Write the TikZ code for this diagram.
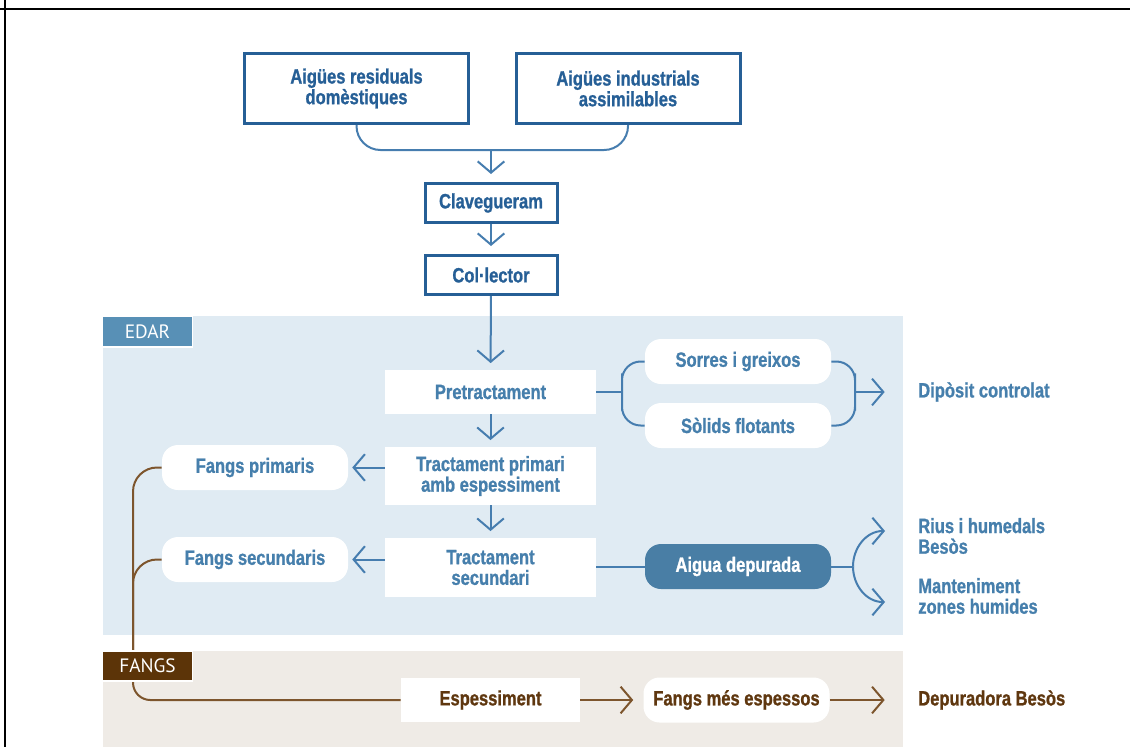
\documentclass[tikz,border=0pt]{standalone}
\usepackage{fontspec}
\setmainfont{Liberation Sans}
\newfontfamily\condfont[FakeStretch=0.8, FakeBold=1]{Liberation Sans}
\newfontfamily\tagfont{PT Sans}
\usepackage{tikz}
\usetikzlibrary{arrows.meta, positioning, calc}
\definecolor{EDARNavy}{RGB}{38, 95, 150}
\definecolor{EDARText}{RGB}{70, 127, 172}
\definecolor{EDARLine}{RGB}{70, 125, 175}
\definecolor{EDARBg}{RGB}{224, 235, 243}
\definecolor{EDARTag}{RGB}{88, 144, 182}
\definecolor{EDARFill}{RGB}{73, 126, 165}
\definecolor{FangsBg}{RGB}{239, 235, 230}
\definecolor{FangsTag}{RGB}{92, 52, 8}
\definecolor{FangsLine}{RGB}{125, 85, 45}
\definecolor{FangsText}{RGB}{95, 55, 15}

\begin{document}
\begin{tikzpicture}[x=0.75pt,y=-0.75pt,
  every node/.style={inner sep=0pt, font=\condfont\bfseries\fontsize{15.5}{15.5}\selectfont},
  topbox/.style={draw=EDARNavy, line width=2.25pt, text=EDARNavy, align=center},
  stagebox/.style={fill=white, text=EDARText, align=center, minimum width=158pt},
  pillbox/.style={fill=white, text=EDARText, rounded corners=12pt, minimum width=139.5pt, minimum height=33.75pt},
  outlabel/.style={text=EDARText, align=left, anchor=west},
  tagbox/.style={draw=white, line width=0.8pt, text=white, minimum width=67.5pt, font=\tagfont\fontsize{14.5}{15}\selectfont},
  flow/.style={draw=EDARLine, line width=1.5pt},
  flowarr/.style={flow, -{Straight Barb[length=8.5pt,width=20pt]}},
  sludge/.style={draw=FangsLine, line width=1.5pt},
  sludgearr/.style={sludge, -{Straight Barb[length=8.5pt,width=20pt]}}]
  \path[use as bounding box] (0,0) rectangle (1130,747);
  % page frame
  \draw[black, line width=1.6pt] (0,9) -- (1130,9);
  \draw[black, line width=2pt] (5,0) -- (5,747);
  % bands
  \fill[EDARBg] (103,316) rectangle (903,635);
  \fill[FangsBg] (103,651) rectangle (903,747);

  % inflow
  \node[topbox, minimum width=168pt, minimum height=52.5pt] (domestic) at (356.5,88.5) {Aigües residuals\\domèstiques};
  \node[topbox, minimum width=168pt, minimum height=52.5pt] (industrial) at (628,88.5) {Aigües industrials\\assimilables};
  \node[topbox, minimum width=99pt, minimum height=29.25pt] (sewer) at (491,203) {Clavegueram};
  \node[topbox, minimum width=99pt, minimum height=29.25pt] (collector) at (491,275) {Col·lector};

  % plant
  \node[stagebox, minimum height=33pt] (pretreat) at (490.5,392) {Pretractament};
  \node[stagebox, minimum height=43.5pt] (primary) at (490.5,476) {Tractament primari\\amb espessiment};
  \node[stagebox, minimum height=44.25pt] (secondary) at (490.5,567.5) {Tractament\\secundari};
  \node[pillbox] (sand) at (738,361.5) {Sorres i greixos};
  \node[pillbox] (floating) at (738,425.5) {Sòlids flotants};
  \node[pillbox] (primsludge) at (255,467.5) {Fangs primaris};
  \node[pillbox] (secsludge) at (255,559.5) {Fangs secundaris};
  \node[pillbox, fill=EDARFill, text=white] (clean) at (738,566.5) {Aigua depurada};
  \node[outlabel] (landfill) at (918,392) {Dipòsit controlat};
  \node[outlabel] (rivers) at (918,536) {Rius i humedals\\Besòs};
  \node[outlabel] (wetlands) at (918,596) {Manteniment\\zones humides};

  % sludge line
  \node[stagebox, minimum width=134.25pt, minimum height=33pt, text=FangsText] (thicken) at (490.5,700) {Espessiment};
  \node[pillbox, text=FangsText] (thick) at (736.5,700) {Fangs més espessos};
  \node[outlabel, text=FangsText] (besos) at (918,700) {Depuradora Besòs};

  \coordinate (merge) at (491,150);
  \coordinate (split) at (622,392);
  \coordinate (join) at (855,392);
  \coordinate (fork) at (853,566.5);
  \coordinate (riverstip) at (885,531);
  \coordinate (wetlandstip) at (885,602);
  \coordinate (drop) at (133,651);

  \draw[flow, rounded corners=18pt] (domestic.south) |- (merge) -| (industrial.south);
  \draw[flowarr, shorten >=6pt] (merge) -- (sewer);
  \draw[flowarr, shorten >=6pt] (sewer) -- (collector);
  \draw[flowarr, shorten >=5pt] (collector) -- (pretreat);
  \draw[flowarr, shorten >=5pt] (pretreat) -- (primary);
  \draw[flowarr, shorten >=5pt] (primary) -- (secondary);
  \draw[flowarr, shorten >=3pt] (primary.west |- primsludge) -- (primsludge.east);
  \draw[flowarr, shorten >=3pt] (secondary.west |- secsludge) -- (secsludge.east);
  \draw[flow] (pretreat.east) -- (split);
  \draw[flow, rounded corners=14pt] (sand.west) -| (split) |- (floating.west);
  \draw[flow, rounded corners=14pt] (sand.east) -| (join) |- (floating.east);
  \draw[flowarr, shorten >=25pt] (join) -- (landfill.west);
  \draw[flow] (secondary.east |- clean) -- (clean.west);
  \draw[flow] (clean.east) -- (fork);
  \draw[flowarr] (fork) to[out=90,in=180] (riverstip);
  \draw[flowarr] (fork) to[out=-90,in=180] (wetlandstip);

  \draw[sludge, rounded corners=18pt] (primsludge.west) -| (drop);
  \draw[sludge, rounded corners=18pt] (secsludge.west) -| (drop);
  \draw[sludge, rounded corners=13pt] (drop |- 0,681) |- (thicken.west);
  \draw[sludgearr, shorten >=7.5pt] (thicken) -- (thick);
  \draw[sludgearr, shorten >=25pt] (thick) -- (besos.west);

  % band tags
  \node[tagbox, fill=EDARTag, minimum height=23.25pt] (edar) at (147.5,331.5) {EDAR};
  \node[tagbox, fill=FangsTag, minimum height=22.5pt] (fangs) at (147.5,666) {FANGS};
\end{tikzpicture}
\end{document}
